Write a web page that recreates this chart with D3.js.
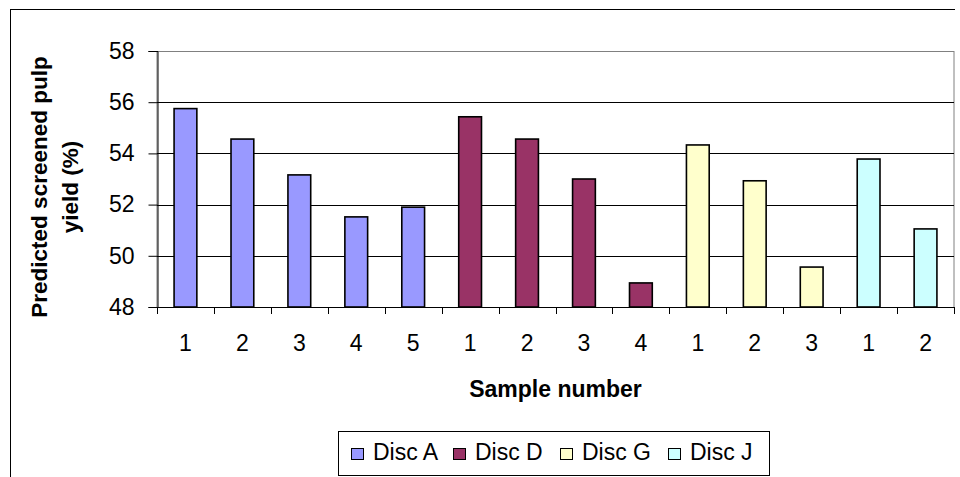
<!DOCTYPE html>
<html>
<head>
<meta charset="UTF-8">
<script src="https://d3js.org/d3.v7.min.js"></script>
<style>
  body { margin: 0; background: #fff; font-family: "Liberation Sans", Arial, sans-serif; }
</style>
</head>
<body>
<svg width="960" height="477"></svg>
<script>
// data
const groups = ["Disc A", "Disc D", "Disc G", "Disc J"];
const colors = ["#9999FF", "#993366", "#FFFFCC", "#CCFFFF"];
const sampleLabels = ["1", "2", "3", "4", "5", "1", "2", "3", "4", "1", "2", "3", "1", "2"];
const sampleGroup = ["Disc A", "Disc A", "Disc A", "Disc A", "Disc A", "Disc D", "Disc D", "Disc D", "Disc D", "Disc G", "Disc G", "Disc G", "Disc J", "Disc J"];
const yieldValues = [55.75, 54.56, 53.16, 51.52, 51.9, 55.43, 54.56, 53.0, 48.94, 54.33, 52.93, 49.56, 53.78, 51.05];
const yTicks = [48, 50, 52, 54, 56, 58];

const data = yieldValues.map((v, i) => ({ i: i, label: sampleLabels[i], group: sampleGroup[i], value: v }));

const svg = d3.select("svg");
const pLeft = 157, pRight = 954, pTop = 51, pBottom = 307;
const fontSz = "23px";

// outer frame (only top and left edges are visible)
svg.append("line").attr("x1", 10).attr("x2", 955).attr("y1", 9.5).attr("y2", 9.5).attr("stroke", "#000");
svg.append("line").attr("x1", 10.5).attr("x2", 10.5).attr("y1", 9).attr("y2", 477).attr("stroke", "#000");

const x = d3.scaleBand().domain(data.map(d => d.i)).range([pLeft, pRight]).paddingInner(0).paddingOuter(0);
const y = d3.scaleLinear().domain([48, 58]).range([pBottom, pTop]);
const color = d3.scaleOrdinal().domain(groups).range(colors);

// plot area border
svg.append("rect").attr("x", pLeft).attr("y", pTop + 0.5).attr("width", pRight - pLeft).attr("height", pBottom - pTop)
  .attr("fill", "none").attr("stroke", "#808080");

// gridlines
svg.selectAll(".grid").data(yTicks.slice(1, -1)).enter().append("line")
  .attr("x1", pLeft).attr("x2", pRight)
  .attr("y1", d => Math.round(y(d)) + 0.5).attr("y2", d => Math.round(y(d)) + 0.5)
  .attr("stroke", "#000");

// bars
const barW = x.bandwidth() / 2.5;
svg.selectAll(".bar").data(data).enter().append("rect")
  .attr("x", d => x(d.i) + (x.bandwidth() - barW) / 2)
  .attr("y", d => y(d.value))
  .attr("width", barW)
  .attr("height", d => y(48) - y(d.value))
  .attr("fill", d => color(d.group))
  .attr("stroke", "#000").attr("stroke-width", 1.6);

// y axis
const yAxis = svg.append("g").attr("transform", `translate(${pLeft + 0.5},0)`)
  .call(d3.axisLeft(y).tickValues(yTicks).tickSize(9).tickPadding(14));
yAxis.select(".domain").attr("stroke", "#000");
yAxis.selectAll("line").attr("stroke", "#000");
yAxis.selectAll("text").attr("font-size", fontSz).attr("font-family", "Liberation Sans, Arial, sans-serif").attr("fill", "#000");

// x axis (ticks between categories)
const xAxisG = svg.append("g");
xAxisG.append("line").attr("x1", pLeft).attr("x2", pRight).attr("y1", pBottom + 0.5).attr("y2", pBottom + 0.5).attr("stroke", "#000");
const bounds = data.map(d => x(d.i)).concat([pRight]);
xAxisG.selectAll(".tk").data(bounds).enter().append("line")
  .attr("x1", d => Math.round(d) + 0.5).attr("x2", d => Math.round(d) + 0.5)
  .attr("y1", pBottom).attr("y2", pBottom + 7).attr("stroke", "#000");
xAxisG.selectAll(".lbl").data(data).enter().append("text")
  .attr("x", d => x(d.i) + x.bandwidth() / 2)
  .attr("y", 351)
  .attr("text-anchor", "middle")
  .attr("font-size", fontSz)
  .text(d => d.label);

// axis titles
svg.append("text").attr("x", (pLeft + pRight) / 2).attr("y", 397).attr("text-anchor", "middle")
  .attr("font-size", fontSz).attr("font-weight", "bold").text("Sample number");
const yt = svg.append("text").attr("transform", "translate(47,187) rotate(-90)")
  .attr("text-anchor", "middle").attr("font-size", "22.5px").attr("font-weight", "bold");
yt.append("tspan").attr("x", 0).attr("dy", 0).text("Predicted screened pulp");
yt.append("tspan").attr("x", 0).attr("dy", 31).text("yield (%)");

// legend
const lg = svg.append("g");
lg.append("rect").attr("x", 338.5).attr("y", 431.5).attr("width", 431).attr("height", 44)
  .attr("fill", "#fff").attr("stroke", "#000");
const legX = [351, 453, 560, 668];
groups.forEach((g, i) => {
  lg.append("rect").attr("x", legX[i] + 0.5).attr("y", 448.5).attr("width", 12).attr("height", 11)
    .attr("fill", colors[i]).attr("stroke", "#000");
  lg.append("text").attr("x", legX[i] + 22).attr("y", 460).attr("font-size", fontSz).text(g);
});
</script>
</body>
</html>
